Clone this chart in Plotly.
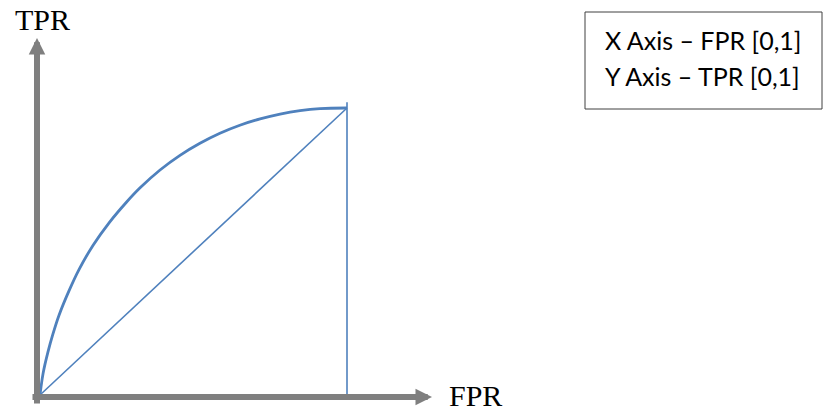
import plotly.graph_objects as go

# ROC curve
fpr = [0.0, 0.003, 0.010, 0.026, 0.042, 0.062, 0.094, 0.127, 0.173, 0.225, 0.280, 0.326, 0.391, 0.456,
       0.521, 0.586, 0.651, 0.717, 0.782, 0.847, 0.912, 1.0]
tpr = [0.0, 0.025, 0.075, 0.150, 0.212, 0.278, 0.362, 0.437, 0.522, 0.600, 0.670, 0.722, 0.784, 0.835,
       0.877, 0.912, 0.940, 0.962, 0.979, 0.991, 0.998, 1.0]
diag_x = [0.0, 1.0]
diag_y = [0.0, 1.0]
vert_x = [1.0, 1.0]
vert_y = [0.0, 1.02]

x_label = "FPR"
y_label = "TPR"
box_lines = ["X Axis – FPR [0,1]", "Y Axis – TPR [0,1]"]

W, H = 825, 412
# pixel mapping: px = 40 + 307*x ; py = 395 - 287*y
X0, XS = 40.0, 307.0
Y0, YS = 395.0, 287.0

def dx(px):
    return (px - X0) / XS

def dy(py):
    return (Y0 - py) / YS

blue = "#4f81bd"
gray = "#7f7f7f"

fig = go.Figure()
fig.add_trace(go.Scatter(x=fpr, y=tpr, mode="lines", line=dict(color=blue, width=2.8, shape="spline", smoothing=1.0), hoverinfo="skip"))
fig.add_trace(go.Scatter(x=diag_x, y=diag_y, mode="lines", line=dict(color=blue, width=1.6), hoverinfo="skip"))
fig.add_trace(go.Scatter(x=vert_x, y=vert_y, mode="lines", line=dict(color=blue, width=1.6), hoverinfo="skip"))

annotations = [
    # vertical axis arrow
    dict(x=dx(37), y=dy(38), ax=dx(37), ay=dy(405), xref="x", yref="y", axref="x", ayref="y",
         showarrow=True, arrowhead=2, arrowsize=0.55, arrowwidth=6, arrowcolor=gray, text="", standoff=0),
    # horizontal axis arrow
    dict(x=dx(432), y=dy(397), ax=dx(31), ay=dy(397), xref="x", yref="y", axref="x", ayref="y",
         showarrow=True, arrowhead=2, arrowsize=0.55, arrowwidth=6, arrowcolor=gray, text="", standoff=0),
    dict(x=dx(42), y=dy(19), xref="x", yref="y", text=y_label, showarrow=False,
         font=dict(family="Liberation Serif", size=30, color="#000000"), xanchor="center", yanchor="middle"),
    dict(x=dx(447), y=dy(395), xref="x", yref="y", text=x_label, showarrow=False,
         font=dict(family="Liberation Serif", size=30, color="#000000"), xanchor="left", yanchor="middle"),
    dict(x=603 / W, y=1 - 40 / H, xref="paper", yref="paper", text=box_lines[0], showarrow=False,
         font=dict(family="Lato", size=25, color="#000000"), xanchor="left", yanchor="middle"),
    dict(x=603 / W, y=1 - 76 / H, xref="paper", yref="paper", text=box_lines[1], showarrow=False,
         font=dict(family="Lato", size=25, color="#000000"), xanchor="left", yanchor="middle"),
]

shapes = [
    dict(type="rect", xref="paper", yref="paper", x0=585 / W, x1=822 / W, y0=1 - 109 / H, y1=1 - 12 / H,
         line=dict(color="#404040", width=1), fillcolor="rgba(0,0,0,0)"),
]

fig.update_layout(
    width=W, height=H,
    margin=dict(l=0, r=0, t=0, b=0),
    paper_bgcolor="white", plot_bgcolor="white",
    showlegend=False,
    xaxis=dict(range=[dx(0), dx(W)], visible=False, fixedrange=True),
    yaxis=dict(range=[dy(H), dy(0)], visible=False, fixedrange=True),
    annotations=annotations,
    shapes=shapes,
)

fig.write_html("out.html", config={"displayModeBar": False},
               post_script="document.body.style.margin='0';document.body.style.overflow='hidden';")
